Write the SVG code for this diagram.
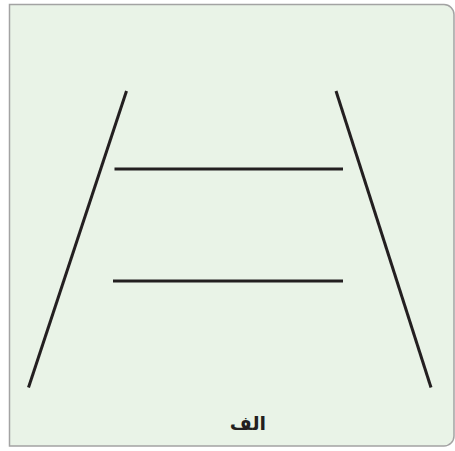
<svg xmlns="http://www.w3.org/2000/svg" width="455" height="451" viewBox="0 0 455 451">
<style>
.frame{fill:#e9f3e7;stroke:#a3a3a3;stroke-width:1.5}
.ln{stroke:#231f20;stroke-width:3;fill:none;stroke-linecap:butt}
.lbl{font-family:"Noto Sans","DejaVu Sans",sans-serif;font-weight:bold;font-size:19px;fill:#231f20}
</style>
<path class="frame" d="M9.5 4.5 H444 A10 10 0 0 1 454 14.5 V436 A10 10 0 0 1 444 446 H9.5 Z"/>
<g id="connectors">
<line class="ln" x1="126.5" y1="91" x2="28.5" y2="387.5"/>
<line class="ln" x1="336" y1="91" x2="431" y2="387.5"/>
<line class="ln" x1="114.5" y1="169" x2="343" y2="169"/>
<line class="ln" x1="113" y1="281" x2="343" y2="281"/>
</g>
<g id="label">
<text class="lbl" x="248" y="430" text-anchor="middle" direction="rtl">الف</text>
</g>
</svg>
